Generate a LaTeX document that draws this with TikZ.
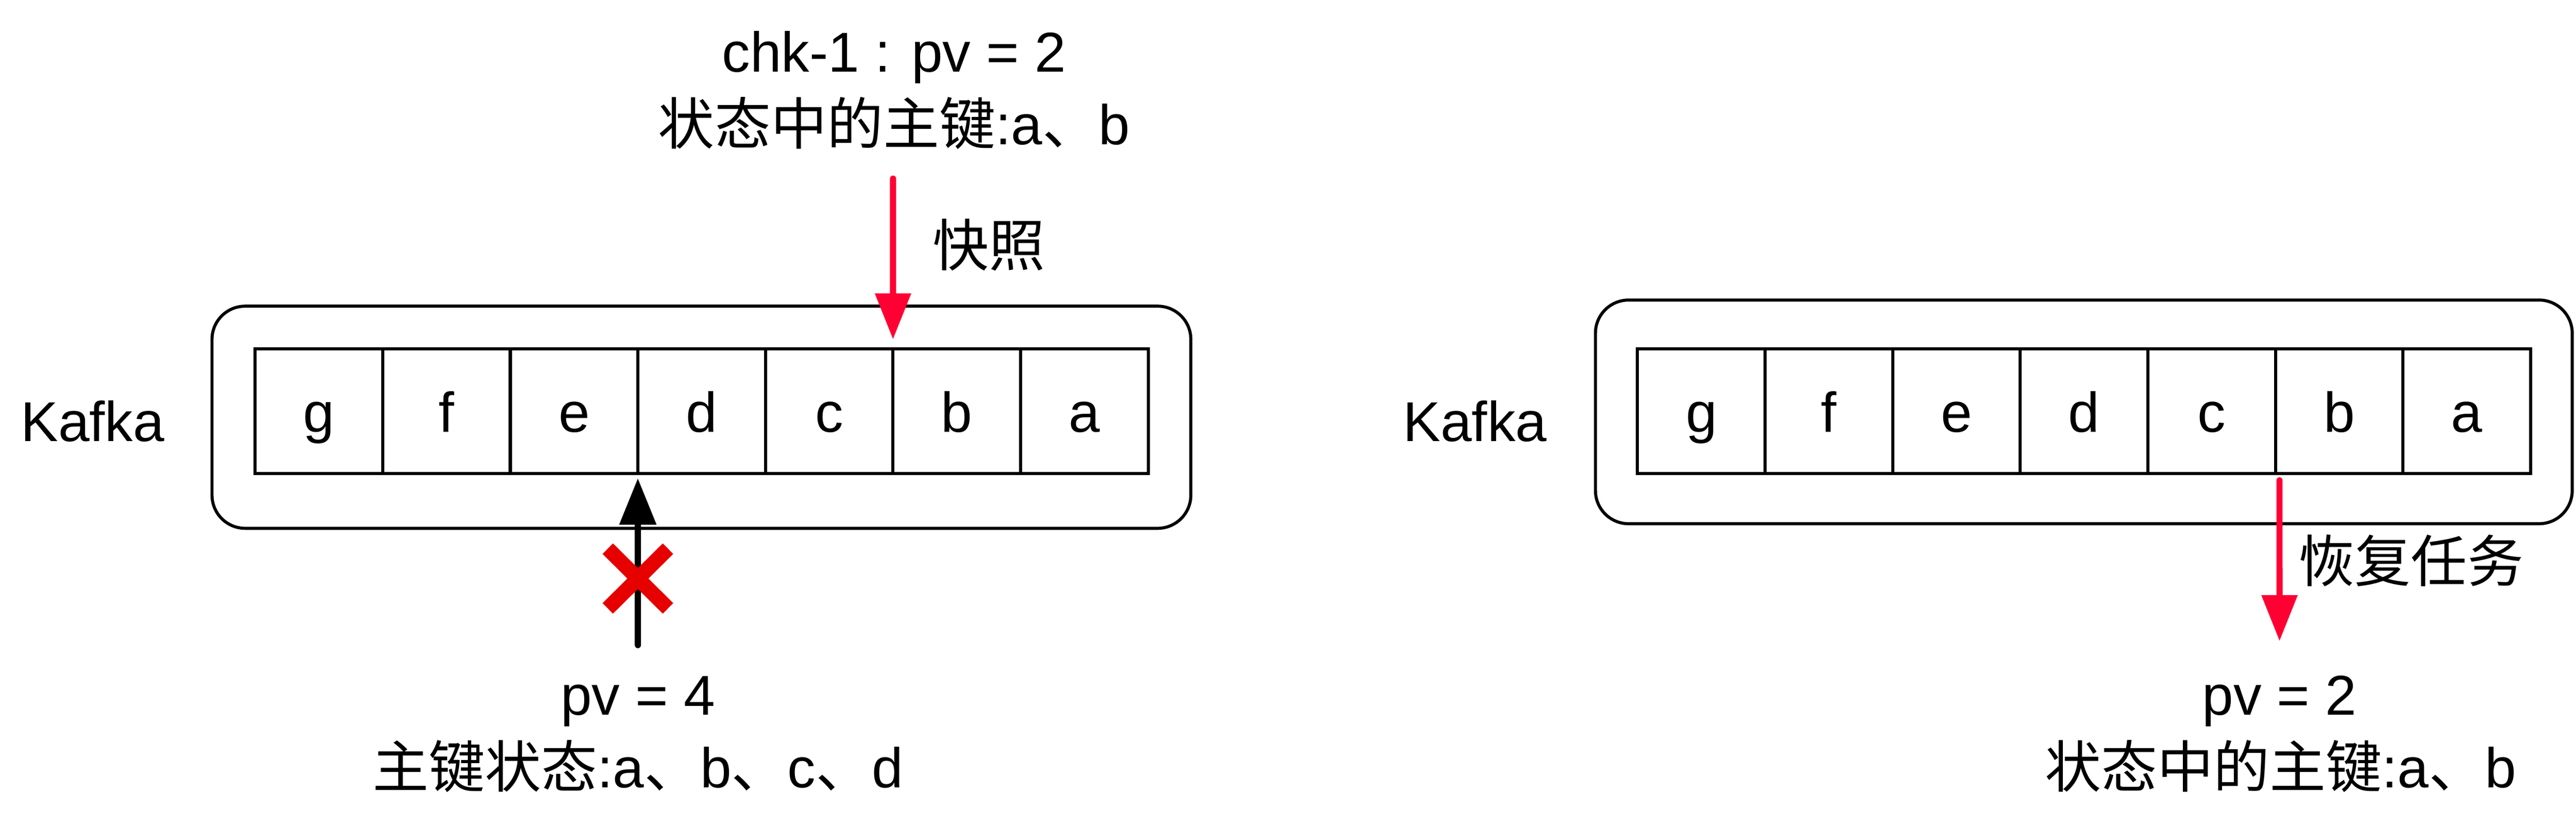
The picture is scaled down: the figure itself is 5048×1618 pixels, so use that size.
\documentclass[tikz,border=0pt]{standalone}
\usepackage{fontspec}
\setmainfont{Liberation Sans}
\newfontfamily\cjk{Noto Sans CJK SC}
\usetikzlibrary{arrows.meta}
\definecolor{snapred}{RGB}{255,0,51}
\definecolor{xred}{RGB}{230,0,0}
\begin{document}
\begin{tikzpicture}[x=0.01cm,y=-0.01cm,
  font=\fontsize{31.3pt}{40pt}\selectfont,
  cellbox/.style={draw, line width=0.06cm, minimum width=2.5cm, minimum height=2.44cm, inner sep=0pt, outer sep=0pt, text height=0.82cm, text depth=0pt},
  outerbox/.style={draw, line width=0.06cm, rounded corners=0.65cm, inner sep=0pt, outer sep=0pt},
  lbl/.style={inner sep=0pt, anchor=base},
  sidelbl/.style={inner sep=0pt, anchor=west},
  redarrow/.style={snapred, line width=0.12cm, line cap=round, -{Triangle[length=0.9cm,width=0.68cm]}},
  blackarrow/.style={black, line width=0.12cm, line cap=round, -{Triangle[length=0.91cm,width=0.70cm]}},
  cross/.style={xred, line width=0.29cm}
]
\useasboundingbox (0,0) rectangle (5048,1618);

% ---------- left panel ----------
\node[outerbox, minimum width=19.17cm, minimum height=4.35cm] (Lbox) at (1374.5,817.5) {};
\foreach \l [count=\i from 0] in {g,f,e,d,c,b,a}
  \node[cellbox] (L\l) at (625+250*\i,806) {\l};
\node[inner sep=0pt, anchor=base west] (Lkafka) at (40,865) {Kafka};

\node[lbl] (Ltop1) at (1752,141) {chk-1 : pv = 2};
\node[lbl] (Ltop2) at (1752,283) {{\cjk 状态中的主键}:a{\cjk 、}b};
\node[sidelbl] (snapL) at (1827,480) {\cjk 快照};

\coordinate (snapS) at (1750,350);
\draw[redarrow] (snapS) -- ([yshift=0.19cm]Lb.north west);

\coordinate (failS) at (1250,1264);
\draw[blackarrow] (failS) -- ([yshift=-0.09cm]Ld.south west);
\draw[cross] (1191,1075) -- (1309,1192) (1309,1075) -- (1191,1192);

\node[lbl] (Lbot1) at (1250,1401) {pv = 4};
\node[lbl] (Lbot2) at (1250,1543) {{\cjk 主键状态}:a{\cjk 、}b{\cjk 、}c{\cjk 、}d};

% ---------- right panel ----------
\node[outerbox, minimum width=19.13cm, minimum height=4.38cm] (Rbox) at (4083.5,807) {};
\foreach \l [count=\i from 0] in {g,f,e,d,c,b,a}
  \node[cellbox] (R\l) at (3334+250*\i,806) {\l};
\node[inner sep=0pt, anchor=base west] (Rkafka) at (2749,865) {Kafka};

\coordinate (restoreE) at (4467,1256);
\draw[redarrow] ([xshift=0.08cm,yshift=-0.13cm]Rb.south west) -- (restoreE);
\node[sidelbl] (restoreL) at (4504,1098) {\cjk 恢复任务};

\node[lbl] (Rbot1) at (4467,1401) {pv = 2};
\node[lbl] (Rbot2) at (4469,1543) {{\cjk 状态中的主键}:a{\cjk 、}b};
\end{tikzpicture}
\end{document}
